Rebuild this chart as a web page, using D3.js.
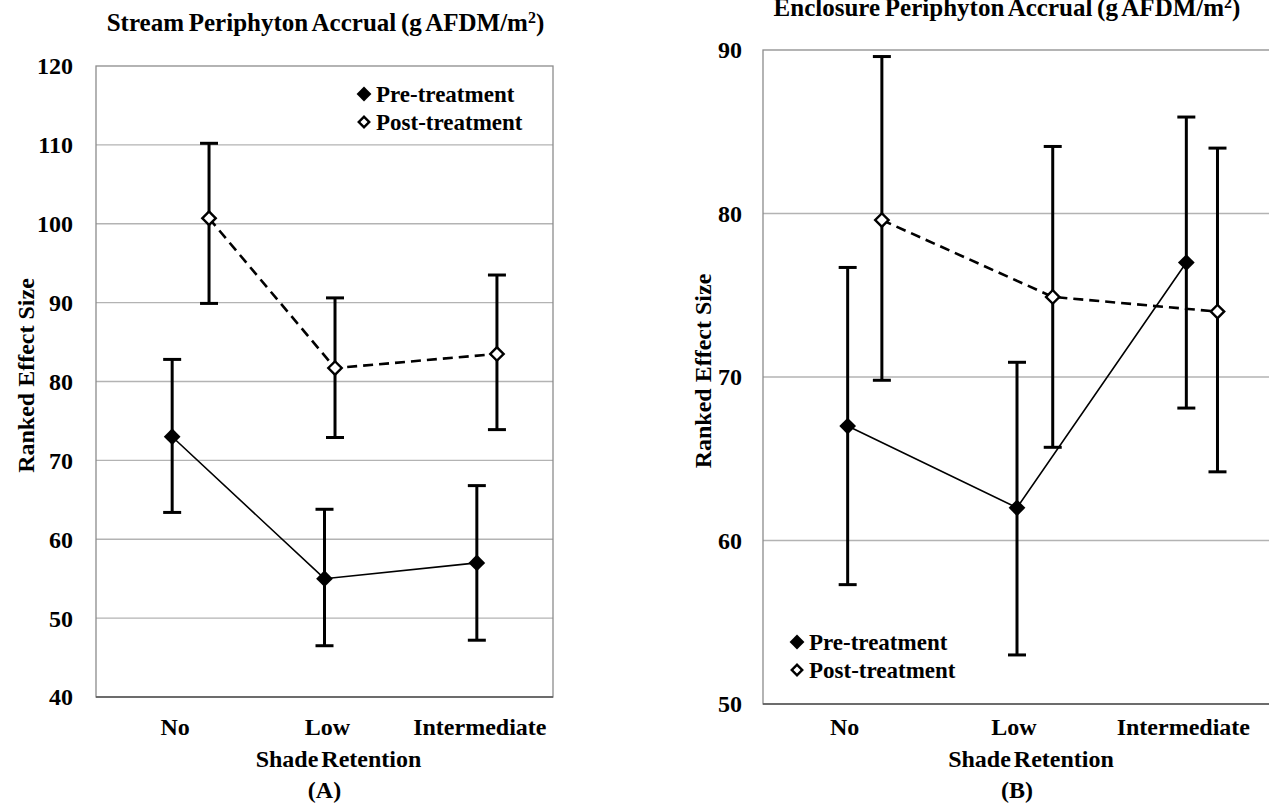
<!DOCTYPE html>
<html lang="en">
<head>
  <meta charset="UTF-8">
  <script src="https://d3js.org/d3.v7.min.js"></script>
  <title>Periphyton Accrual</title>
  <style>
    body {
      margin: 0;
      background: #fff;
      overflow: hidden;
    }
    text {
      font-family: "Liberation Serif", "Times New Roman", serif;
      font-weight: bold;
      fill: #000;
    }
  </style>
</head>
<body>
<script>

  // Shade retention categories
  const categories = ["No", "Low", "Intermediate"];

  // Panel A: stream periphyton
  const streamPre = [73.0, 55.0, 57.0];
  const streamPreLow = [63.4, 46.5, 47.2];
  const streamPreHigh = [82.8, 63.8, 66.8];
  const streamPost = [100.7, 81.7, 83.5];
  const streamPostLow = [89.9, 72.9, 73.9];
  const streamPostHigh = [110.2, 90.6, 93.5];
  // post-treatment points sit a little to the right of each category
  const streamPostX = [0.742, 1.569, 2.632];
  const streamTicks = [40, 50, 60, 70, 80, 90, 100, 110, 120];

  // Panel B: enclosure periphyton
  const enclPre = [67.0, 62.0, 77.0];
  const enclPreLow = [57.3, 53.0, 68.1];
  const enclPreHigh = [76.7, 70.9, 85.9];
  const enclPost = [79.6, 74.9, 74.0];
  const enclPostLow = [69.8, 65.7, 64.2];
  const enclPostHigh = [89.6, 84.1, 84.0];
  const enclPostX = [0.702, 1.711, 2.684];
  const enclTicks = [50, 60, 70, 80, 90];

  const width = 1269, height = 806;

  const svg = d3.select("body").append("svg")
    .attr("width", width)
    .attr("height", height);

  function drawPanel(cfg) {
    const x = d3.scaleLinear().domain([0, 3]).range([cfg.left, cfg.right]);
    const y = d3.scaleLinear().domain(cfg.yDomain).range([cfg.bottom, cfg.top]);
    const g = svg.append("g");

    // gridlines
    g.selectAll(".grid")
      .data(cfg.ticks.slice(1, -1))
      .enter().append("line")
      .attr("x1", cfg.left).attr("x2", cfg.right)
      .attr("y1", d => y(d)).attr("y2", d => y(d))
      .attr("stroke", "#b3b3b3")
      .attr("stroke-width", 1.3);

    // plot box
    g.append("rect")
      .attr("x", cfg.left).attr("y", cfg.top)
      .attr("width", cfg.right - cfg.left)
      .attr("height", cfg.bottom - cfg.top)
      .attr("fill", "none")
      .attr("stroke", "#8c8c8c")
      .attr("stroke-width", 1.3);
    g.append("line")
      .attr("x1", cfg.left).attr("x2", cfg.right)
      .attr("y1", cfg.bottom).attr("y2", cfg.bottom)
      .attr("stroke", "#555")
      .attr("stroke-width", 1.3);

    // y tick labels
    g.selectAll(".ytick")
      .data(cfg.ticks)
      .enter().append("text")
      .attr("x", cfg.left - cfg.tickGap)
      .attr("y", d => y(d))
      .attr("dy", "0.35em")
      .attr("text-anchor", "end")
      .style("font-size", "24px")
      .text(d => d);

    // category labels
    g.selectAll(".xtick")
      .data(categories)
      .enter().append("text")
      .attr("x", (d, i) => x(i + 0.5) + cfg.labelShift)
      .attr("y", 735)
      .attr("text-anchor", "middle")
      .style("font-size", "24px")
      .text(d => d);

    g.append("text")
      .attr("x", (cfg.left + cfg.right) / 2 + 14)
      .attr("y", 767)
      .attr("text-anchor", "middle")
      .style("font-size", "24px")
      .style("word-spacing", "-3px")
      .text("Shade Retention");

    g.append("text")
      .attr("x", (cfg.left + cfg.right) / 2)
      .attr("y", 798)
      .attr("text-anchor", "middle")
      .style("font-size", "24px")
      .text(cfg.tag);

    // y axis title
    g.append("text")
      .attr("transform", `translate(${cfg.yTitleX},${(cfg.top + cfg.bottom) / 2 - 6}) rotate(-90)`)
      .attr("text-anchor", "middle")
      .style("font-size", "24px")
      .text("Ranked Effect Size");

    // chart title with superscript
    const title = g.append("text")
      .attr("x", (cfg.left + cfg.right) / 2 + cfg.titleShift)
      .attr("y", cfg.titleY)
      .attr("text-anchor", "middle")
      .style("font-size", "25px")
      .style("word-spacing", "-1.5px");
    title.append("tspan").text(cfg.title + " (g AFDM/m");
    title.append("tspan").attr("dy", -8).style("font-size", "16px").text("2");
    title.append("tspan").attr("dy", 8).text(")");

    const preX = categories.map((c, i) => i + 0.5);

    const series = [
      { xs: preX, vals: cfg.pre, lo: cfg.preLow, hi: cfg.preHigh, filled: true },
      { xs: cfg.postX, vals: cfg.post, lo: cfg.postLow, hi: cfg.postHigh, filled: false }
    ];

    const diamondFilled = d3.symbol().type(d3.symbolSquare).size(140);
    const diamondOpen = d3.symbol().type(d3.symbolSquare).size(90);

    // connecting lines
    series.forEach(s => {
      const line = d3.line()
        .x((d, i) => x(s.xs[i]))
        .y(d => y(d));
      g.append("path")
        .datum(s.vals)
        .attr("d", line)
        .attr("fill", "none")
        .attr("stroke", "#000")
        .attr("stroke-width", s.filled ? 1.6 : 2.6)
        .attr("stroke-dasharray", s.filled ? null : "10,6");
    });

    // error bars
    series.forEach(s => {
      const eb = g.append("g");
      s.vals.forEach((v, i) => {
        const cx = x(s.xs[i]);
        eb.append("line")
          .attr("x1", cx).attr("x2", cx)
          .attr("y1", y(s.lo[i])).attr("y2", y(s.hi[i]))
          .attr("stroke", "#000").attr("stroke-width", 3);
        [s.lo[i], s.hi[i]].forEach(e => {
          eb.append("line")
            .attr("x1", cx - 9).attr("x2", cx + 9)
            .attr("y1", y(e)).attr("y2", y(e))
            .attr("stroke", "#000").attr("stroke-width", 3);
        });
      });
    });

    // markers
    series.forEach(s => {
      g.selectAll(null)
        .data(s.vals)
        .enter().append("path")
        .attr("d", s.filled ? diamondFilled : diamondOpen)
        .attr("transform", (d, i) => `translate(${x(s.xs[i])},${y(d)}) rotate(45)`)
        .attr("fill", s.filled ? "#000" : "#fff")
        .attr("stroke", "#000")
        .attr("stroke-width", s.filled ? 0 : 2.4);
    });

    // legend
    const legend = g.append("g");
    const items = [
      { label: "Pre-treatment", filled: true },
      { label: "Post-treatment", filled: false }
    ];
    items.forEach((it, i) => {
      const ly = cfg.legendY + i * 28;
      legend.append("path")
        .attr("d", d3.symbol().type(d3.symbolSquare).size(it.filled ? 110 : 55))
        .attr("transform", `translate(${cfg.legendX},${ly}) rotate(45)`)
        .attr("fill", it.filled ? "#000" : "#fff")
        .attr("stroke", "#000")
        .attr("stroke-width", it.filled ? 0 : 2.4);
      legend.append("text")
        .attr("x", cfg.legendX + 12)
        .attr("y", ly)
        .attr("dy", "0.35em")
        .style("font-size", "23px")
        .text(it.label);
    });
  }

  drawPanel({
    title: "Stream Periphyton Accrual",
    tag: "(A)",
    left: 96, right: 553, top: 66, bottom: 697,
    yDomain: [40, 120], ticks: streamTicks, tickGap: 23,
    yTitleX: 34, titleY: 31, titleShift: 1, labelShift: 3,
    pre: streamPre, preLow: streamPreLow, preHigh: streamPreHigh,
    post: streamPost, postLow: streamPostLow, postHigh: streamPostHigh,
    postX: streamPostX,
    legendX: 364, legendY: 94
  });

  drawPanel({
    title: "Enclosure Periphyton Accrual",
    tag: "(B)",
    left: 763, right: 1271, top: 50, bottom: 704,
    yDomain: [50, 90], ticks: enclTicks, tickGap: 21,
    yTitleX: 711, titleY: 16, titleShift: -10, labelShift: -3,
    pre: enclPre, preLow: enclPreLow, preHigh: enclPreHigh,
    post: enclPost, postLow: enclPostLow, postHigh: enclPostHigh,
    postX: enclPostX,
    legendX: 797, legendY: 642
  });

</script>
</body>
</html>
